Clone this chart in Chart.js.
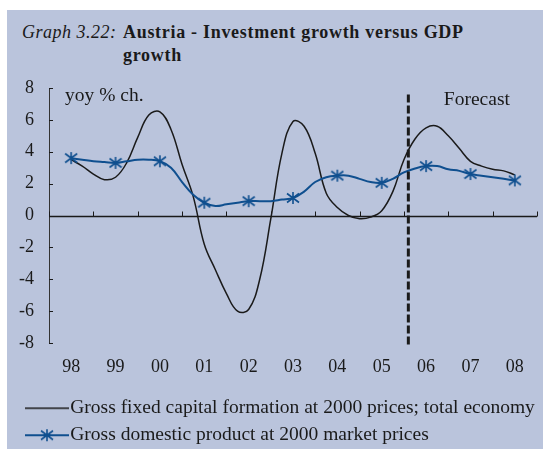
<!DOCTYPE html>
<html>
<head>
<meta charset="utf-8">
<script src="https://cdn.jsdelivr.net/npm/chart.js@4.4.0/dist/chart.umd.min.js"></script>
<style>
  html, body { margin: 0; padding: 0; background: #fff; overflow: hidden; }
  #panel { position: absolute; left: 7px; top: 10px; width: 536px; height: 439px; background: #bac4dc; }
  #title { position: absolute; left: 22px; top: 21px; font-family: "Liberation Serif", "Times New Roman", serif;
           font-size: 18px; line-height: 23px; color: #1a1a1a; display: flex; }
  #title .num { font-style: italic; width: 101px; letter-spacing: 0.5px; }
  #title .txt { font-weight: bold; letter-spacing: 0.7px; }
  #wrap { position: absolute; left: 0; top: 0; width: 545px; height: 460px; }
</style>
</head>
<body>
<div id="panel"></div>
<div id="title"><span class="num">Graph 3.22:</span><span class="txt">Austria - Investment growth versus GDP<br>growth</span></div>
<div id="wrap"><canvas id="mycanvas"></canvas></div>
<script>
var years = ['98', '99', '00', '01', '02', '03', '04', '05', '06', '07', '08'];
var firstYear = 1998;

// yoy % change, quarterly from 1998 to 2008
var investment = [
  3.5, 3.1, 2.6, 2.25,
  2.4, 3.3, 4.9, 6.3,
  6.5, 5.4, 3.2, 1.2,
  -1.8, -3.4, -4.9, -6.0,
  -5.9, -4.0, -0.2, 3.9,
  5.9, 5.6, 3.9, 1.4,
  0.5, 0.0, -0.2, -0.1,
  0.3, 1.5, 3.5, 4.8,
  5.5, 5.6, 5.0, 4.2,
  3.4, 3.1, 2.9, 2.8,
  2.55
];
var gdp = [
  3.6, 3.5, 3.4, 3.35,
  3.3, 3.4, 3.5, 3.5,
  3.4, 3.0, 2.1, 1.3,
  0.8, 0.6, 0.7, 0.8,
  0.9, 0.9, 0.9, 1.0,
  1.1, 1.5, 2.1, 2.4,
  2.5, 2.5, 2.3, 2.1,
  2.05, 2.3, 2.7, 2.95,
  3.1, 3.1, 2.9, 2.8,
  2.6, 2.5, 2.4, 2.3,
  2.2
];
var forecastFrom = 2005.6;

var serif = '"Liberation Serif", "Times New Roman", serif';
var ink = '#1a1a1a';
var blue = '#0f4f8f';

function quarterly(values) {
  return values.map(function(v, i) { return { x: firstYear + i / 4, y: v }; });
}

function makeStar(color) {
  var c = document.createElement('canvas');
  c.width = 14; c.height = 14;
  var g = c.getContext('2d');
  g.strokeStyle = color;
  g.lineWidth = 1.6;
  g.beginPath();
  g.moveTo(7, 1); g.lineTo(7, 13);
  g.moveTo(1, 2.5); g.lineTo(13, 11.5);
  g.moveTo(1, 11.5); g.lineTo(13, 2.5);
  g.stroke();
  return c;
}

// legend swatch: the line sits in the right part of the image, next to the text
function legendSample(color, width, mark) {
  var c = document.createElement('canvas');
  c.width = 70; c.height = 14;
  var g = c.getContext('2d');
  g.strokeStyle = color;
  g.lineWidth = width;
  g.beginPath(); g.moveTo(26, 7); g.lineTo(70, 7); g.stroke();
  if (mark) g.drawImage(mark, 41, 0);
  return c;
}

var star = makeStar(blue);

// zero line, inner tick marks and the two notes
var decor = {
  id: 'decor',
  beforeDatasetsDraw: function(chart) {
    var ctx = chart.ctx, xs = chart.scales.x, ys = chart.scales.y;
    var y0 = Math.round(ys.getPixelForValue(0)) + 0.5;
    ctx.save();
    ctx.strokeStyle = ink;
    ctx.lineWidth = 1.3;
    ctx.beginPath();
    ctx.moveTo(xs.left, y0); ctx.lineTo(xs.right, y0);
    ctx.stroke();
    ctx.lineWidth = 1;
    ctx.beginPath();
    for (var k = 0; k <= years.length; k++) {
      var px = Math.round(xs.getPixelForValue(firstYear - 0.5 + k)) + 0.5;
      ctx.moveTo(px, y0); ctx.lineTo(px, y0 - 5);
    }
    ys.ticks.forEach(function(t) {
      var py = Math.round(ys.getPixelForValue(t.value)) + 0.5;
      ctx.moveTo(xs.left, py); ctx.lineTo(xs.left + 4, py);
    });
    ctx.stroke();
    ctx.fillStyle = ink;
    ctx.font = '19.5px ' + serif;
    ctx.textBaseline = 'middle';
    ctx.fillText('yoy % ch.', xs.left + 16, ys.getPixelForValue(7.5));
    ctx.fillText('Forecast', xs.getPixelForValue(2006.4), ys.getPixelForValue(7.25));
    ctx.restore();
  }
};

var ctx = document.getElementById('mycanvas');

var chart = new Chart(ctx, {
  type: 'line',
  data: {
    datasets: [
      {
        label: 'forecast',
        data: [{ x: forecastFrom, y: 7.6 }, { x: forecastFrom, y: -8.2 }],
        borderColor: ink,
        borderWidth: 3,
        borderDash: [8, 3],
        pointRadius: 0,
        clip: false,
        order: 0
      },
      {
        label: 'Gross domestic product at 2000 market prices',
        data: quarterly(gdp),
        borderColor: blue,
        borderWidth: 2,
        pointStyle: star,
        pointRadius: function(c) { return c.dataIndex % 4 === 0 ? 6 : 0; },
        tension: 0.4,
        order: 1
      },
      {
        label: 'Gross fixed capital formation at 2000 prices; total economy',
        data: quarterly(investment),
        borderColor: ink,
        borderWidth: 1.5,
        pointRadius: 0,
        tension: 0.4,
        order: 2
      }
    ]
  },
  options: {
    responsive: true,
    maintainAspectRatio: false,
    animation: false,
    events: [],
    layout: { padding: { left: 0, right: 3, top: 88, bottom: 5 } },
    scales: {
      x: {
        type: 'linear',
        min: firstYear - 0.5,
        max: firstYear + years.length - 0.5,
        afterBuildTicks: function(axis) {
          axis.ticks = years.map(function(y, i) { return { value: firstYear + i }; });
        },
        afterFit: function(axis) {
          axis.height = 48;
          axis.paddingLeft = 0;
          axis.paddingRight = 0;
        },
        grid: { display: false, drawTicks: false },
        border: { display: false },
        ticks: {
          autoSkip: false,
          maxRotation: 0,
          padding: 13,
          color: ink,
          font: { family: serif, size: 18 },
          callback: function(value) { return years[value - firstYear]; }
        }
      },
      y: {
        min: -8,
        max: 8,
        afterFit: function(axis) { axis.width = 49; },
        grid: { display: false, drawTicks: false },
        border: { display: true, color: '#333', width: 1 },
        ticks: {
          stepSize: 2,
          padding: 15,
          color: ink,
          font: { family: serif, size: 18 }
        }
      }
    },
    plugins: {
      title: { display: false },
      tooltip: { enabled: false },
      legend: {
        position: 'bottom',
        align: 'start',
        labels: {
          usePointStyle: true,
          pointStyleWidth: 53,
          padding: 7.5,
          color: ink,
          font: { family: serif, size: 19.5 },
          generateLabels: function(chart) {
            return [
              { text: chart.data.datasets[2].label, pointStyle: legendSample(ink, 1.5), fontColor: ink, datasetIndex: 2, lineWidth: 0 },
              { text: chart.data.datasets[1].label, pointStyle: legendSample(blue, 2, star), fontColor: ink, datasetIndex: 1, lineWidth: 0 }
            ];
          }
        }
      }
    }
  },
  plugins: [decor]
});
</script>
</body>
</html>
